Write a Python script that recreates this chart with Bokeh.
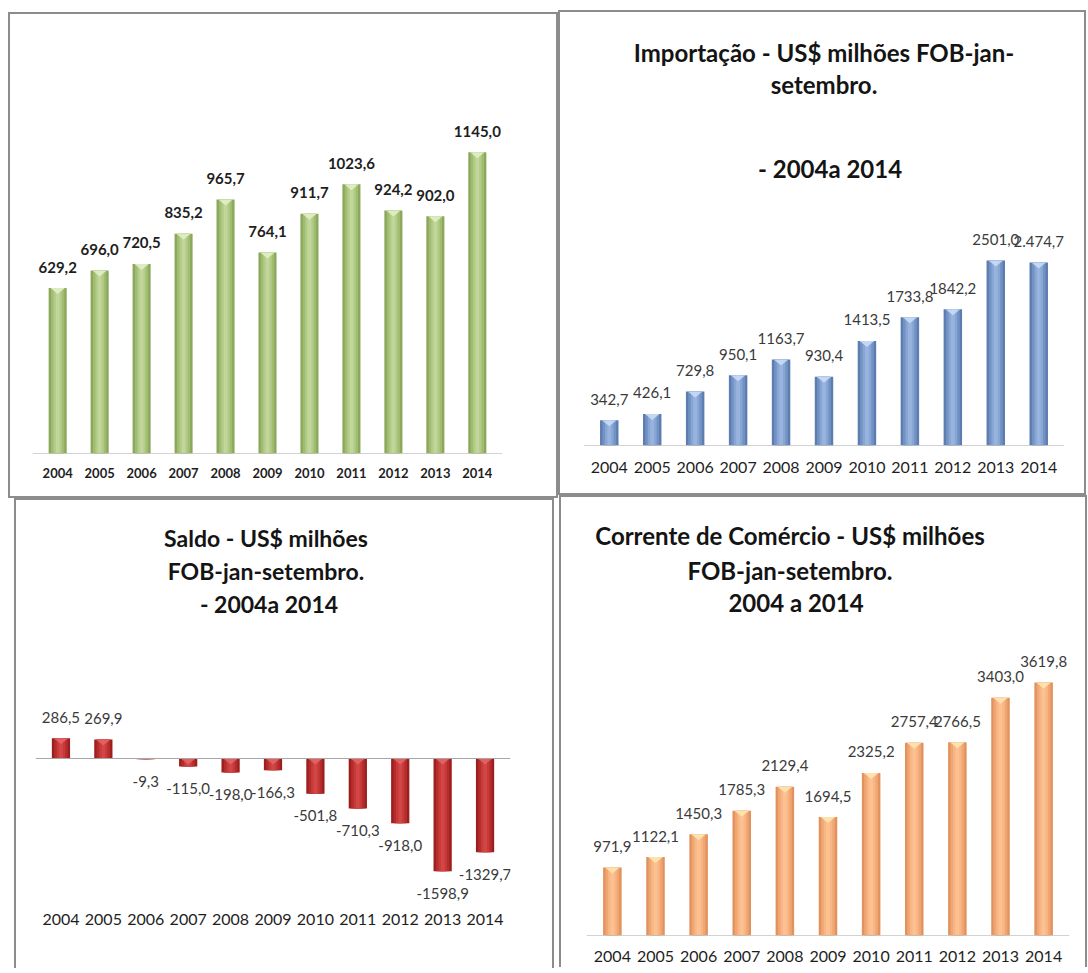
from bokeh.plotting import figure
from bokeh.layouts import column, row
from bokeh.models import ColumnDataSource, Span, FactorRange, Range1d, Spacer
from bokeh.embed import file_html
from bokeh.resources import INLINE
from bokeh.core.properties import value

years = ["2004", "2005", "2006", "2007", "2008", "2009", "2010", "2011", "2012", "2013", "2014"]

exp_values = [629.2, 696.0, 720.5, 835.2, 965.7, 764.1, 911.7, 1023.6, 924.2, 902.0, 1145.0]
exp_labels = ["629,2", "696,0", "720,5", "835,2", "965,7", "764,1", "911,7", "1023,6", "924,2", "902,0", "1145,0"]

imp_values = [342.7, 426.1, 729.8, 950.1, 1163.7, 930.4, 1413.5, 1733.8, 1842.2, 2501.0, 2474.7]
imp_labels = ["342,7", "426,1", "729,8", "950,1", "1163,7", "930,4", "1413,5", "1733,8", "1842,2", "2501,0", "2.474,7"]

saldo_values = [286.5, 269.9, -9.3, -115.0, -198.0, -166.3, -501.8, -710.3, -918.0, -1598.9, -1329.7]
saldo_labels = ["286,5", "269,9", "-9,3", "-115,0", "-198,0", "-166,3", "-501,8", "-710,3", "-918,0", "-1598,9", "-1329,7"]

corr_values = [971.9, 1122.1, 1450.3, 1785.3, 2129.4, 1694.5, 2325.2, 2757.4, 2766.5, 3403.0, 3619.8]
corr_labels = ["971,9", "1122,1", "1450,3", "1785,3", "2129,4", "1694,5", "2325,2", "2757,4", "2766,5", "3403,0", "3619,8"]

title_imp = ["Importação - US$ milhões FOB-jan-", "setembro.", "- 2004a 2014"]
title_saldo = ["Saldo - US$ milhões", "FOB-jan-setembro.", "- 2004a 2014"]
title_corr = ["Corrente de Comércio - US$ milhões", "FOB-jan-setembro.", "2004 a 2014"]

FONT = "Lato"
BORDER = {"border": "2px solid #8c8c8c"}
BORDER_OPEN = {"border": "2px solid #8c8c8c", "border-bottom-width": "0px"}


def make_panel(w, h, vals, labels, y0, y1, mb, colors, cap_color, lab_style, tick_style, styles):
    src = ColumnDataSource(dict(
        x=years, top=vals, bottom=[0] * len(vals), label=labels,
        off=[-21 if v >= 0 else 22 for v in vals],
    ))
    p = figure(width=w, height=h,
               x_range=FactorRange(factors=years, range_padding=0.1,
                                   range_padding_units="absolute"),
               y_range=Range1d(y0, y1), output_backend="svg", toolbar_location=None,
               y_axis_location=None, min_border_left=mb[0], min_border_right=mb[1],
               min_border_top=mb[2], min_border_bottom=mb[3], styles=styles)
    p.outline_line_color = None
    p.grid.visible = False
    p.background_fill_color = "white"
    p.border_fill_color = "white"
    ax = p.xaxis[0]
    ax.axis_line_color = None
    ax.major_tick_line_color = None
    ax.minor_tick_line_color = None
    ax.major_tick_out = 0
    ax.major_tick_in = 0
    ax.major_label_text_font = FONT
    ax.major_label_text_font_size = tick_style[0]
    ax.major_label_text_font_style = tick_style[1]
    ax.major_label_text_color = "#1e1e1e"
    ax.major_label_standoff = tick_style[2]
    for wd, col in zip([0.43, 0.32, 0.2, 0.09], colors):
        p.vbar(x="x", top="top", bottom="bottom", width=wd, source=src,
               fill_color=col, line_color=None)
    # bevel highlight at the upper end of each bar (up to 6 px deep, never past the bar)
    frame_px = h - mb[2] - mb[3]
    depth = 6 * (y1 - y0) / frame_px
    caps = [max(v, 0) for v in vals]
    depths = [min(depth, abs(v)) for v in vals]
    cap_xs = [[(yr, -0.17), (yr, 0.17), (yr, 0.0)] for yr in years]
    cap_ys = [[c, c, c - d] for c, d in zip(caps, depths)]
    p.patches(xs=cap_xs, ys=cap_ys, fill_color=cap_color, line_color=None, fill_alpha=0.9)
    p.add_layout(Span(location=0, dimension="width", line_color="#a6a6a6", line_width=1))
    p.text(x="x", y="top", text="label", source=src, y_offset="off",
           text_align="center", text_baseline="middle",
           text_font=value(FONT), text_font_size=lab_style[0],
           text_font_style=lab_style[1], text_color=lab_style[2])
    return p


def add_title(p, lines, y_top, y_offs, x_offs, size):
    # title lines anchored at the top-centre of the frame, shifted in pixels
    src = ColumnDataSource(dict(x=["2009"] * len(lines), y=[y_top] * len(lines),
                                text=lines, yo=y_offs, xo=x_offs))
    p.text(x="x", y="y", text="text", source=src, x_offset="xo", y_offset="yo",
           text_align="center", text_baseline="middle", text_font=value(FONT),
           text_font_size=size, text_font_style="bold", text_color="#141414")


P1_END, P2_END, P3_END, P3_START, P4_END = 1593, 5784, 3589, -2057, 6195

p1 = make_panel(550, 486, exp_values, exp_labels, 0, P1_END, (22, 58, 20, 47),
                ["#8aa75a", "#9fbc70", "#b2cc88", "#c0d69a"], "#e2eec8",
                ("15px", "bold", "#1e1e1e"), ("13px", "bold", 14), BORDER)

p2 = make_panel(528, 485, imp_values, imp_labels, 0, P2_END, (23, 24, 5, 52),
                ["#5d7cb0", "#7392c4", "#88a6d4", "#98b4de"], "#c6dcf6",
                ("15px", "normal", "#3a3a3a"), ("16px", "normal", 16), BORDER)
add_title(p2, title_imp, P2_END, [35, 67, 151], [0, 0, 6], "24px")

p3 = make_panel(540, 470, saldo_values, saldo_labels, P3_START, P3_END, (19, 46, 5, 67),
                ["#9c1e1e", "#b42c2c", "#c63a3a", "#d24646"], "#e46464",
                ("15px", "normal", "#3a3a3a"), ("16px", "normal", 10), BORDER_OPEN)
add_title(p3, title_saldo, P3_END, [32, 65, 98], [-7, -7, -4], "23px")

p4 = make_panel(528, 472, corr_values, corr_labels, 0, P4_END, (25, 20, 5, 34),
                ["#e2925e", "#f0a673", "#f9b685", "#fdc091"], "#fde6b0",
                ("15px", "normal", "#3a3a3a"), ("16px", "normal", 15), BORDER_OPEN)
add_title(p4, title_corr, P4_END, [33, 68, 100], [-38, -38, -32], "24px")

left = column(Spacer(width=550, height=12), p1,
              row(Spacer(width=6, height=470), p3))
right = column(Spacer(width=528, height=10), p2,
               row(Spacer(width=1, height=472), p4))
layout = row(Spacer(width=8, height=10), left, right)

open("out.html", "w").write(file_html(layout, INLINE))
